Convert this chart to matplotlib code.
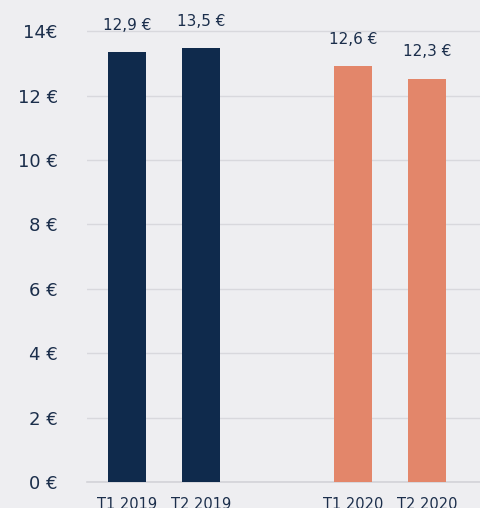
import numpy as np
import matplotlib.pyplot as plt

# Données
trimestres = ['T1 2019', 'T2 2019', 'T1 2020', 'T2 2020']
hauteurs = [13.35, 13.48, 12.92, 12.52]
etiquettes = ['12,9 €', '13,5 €', '12,6 €', '12,3 €']
couleurs = ['#0f2a4c', '#0f2a4c', '#e3866a', '#e3866a']
y_ticks = [0, 2, 4, 6, 8, 10, 12, 14]
y_labels = ['0 €', '2 €', '4 €', '6 €', '8 €', '10 €', '12 €', '14€']

fond = '#eeeef1'
texte = '#1b2e4b'
plt.rcParams['font.family'] = ['DejaVu Sans']

fig = plt.figure(figsize=(4.81, 5.08), dpi=100, facecolor=fond)
ax = fig.add_axes([87 / 481, 1 - 482 / 508, 1 - 87 / 481, 482 / 508])
ax.set_facecolor(fond)

x = np.array([0, 1, 3.05, 4.05])
bars = ax.bar(x, hauteurs, width=0.51, color=couleurs, zorder=3)

for b, lab in zip(bars, etiquettes):
    ax.annotate(lab, (b.get_x() + b.get_width() / 2, b.get_height()),
                xytext=(0, 14), textcoords='offset points',
                ha='center', va='bottom', fontsize=11, color=texte)

ax.set_ylim(0, 14.97)
ax.set_xlim(-0.54, 4.78)
ax.set_yticks(y_ticks)
ax.set_yticklabels(y_labels)
ax.set_xticks(x)
ax.set_xticklabels(trimestres)
ax.tick_params(axis='y', length=0, pad=21, labelsize=13, labelcolor=texte)
ax.tick_params(axis='x', length=0, pad=11, labelsize=10.5, labelcolor=texte)
ax.grid(axis='y', color='#d8d8dd', linewidth=1, zorder=0)

for s in ['top', 'right', 'left']:
    ax.spines[s].set_visible(False)
ax.spines['bottom'].set_color('#d3d3d8')
ax.spines['bottom'].set_linewidth(1.2)

fig.savefig('out.png', dpi=100, facecolor=fond)
